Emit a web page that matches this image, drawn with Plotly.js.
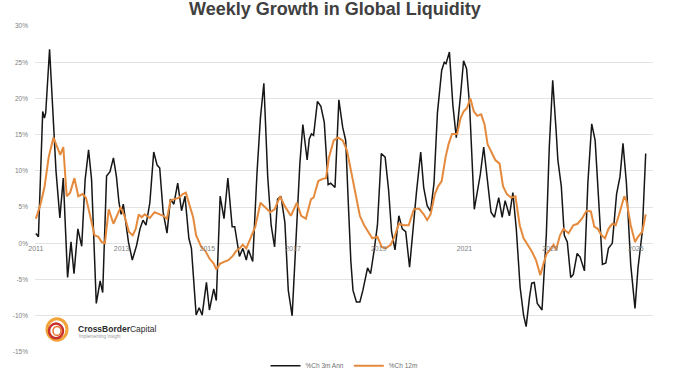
<!DOCTYPE html>
<html>
<head>
<meta charset="utf-8">
<script src="https://cdn.plot.ly/plotly-3.0.1.min.js"></script>
<style>
html,body{margin:0;padding:0;background:#fff;}
#chart{width:692px;height:392px;}
</style>
</head>
<body>
<div id="chart"></div>
<script>
// Time in decimal years, values in %
const blackX = [2011.00,2011.06,2011.16,2011.20,2011.23,2011.32,2011.39,2011.47,2011.56,2011.64,2011.74,2011.82,2011.89,2011.98,2012.07,2012.15,2012.23,2012.30,2012.41,2012.50,2012.56,2012.65,2012.73,2012.81,2012.88,2012.94,2012.99,2013.04,2013.16,2013.25,2013.35,2013.43,2013.50,2013.57,2013.66,2013.75,2013.83,2013.89,2013.97,2014.06,2014.14,2014.22,2014.31,2014.40,2014.48,2014.57,2014.63,2014.68,2014.74,2014.81,2014.88,2014.98,2015.05,2015.15,2015.21,2015.30,2015.39,2015.48,2015.58,2015.64,2015.75,2015.83,2015.91,2015.96,2016.06,2016.16,2016.24,2016.32,2016.41,2016.49,2016.57,2016.64,2016.72,2016.81,2016.89,2016.98,2017.07,2017.16,2017.23,2017.33,2017.38,2017.43,2017.48,2017.57,2017.65,2017.73,2017.82,2017.88,2017.98,2018.07,2018.16,2018.23,2018.29,2018.35,2018.40,2018.48,2018.56,2018.63,2018.74,2018.81,2018.89,2018.97,2019.06,2019.15,2019.23,2019.30,2019.38,2019.47,2019.55,2019.63,2019.72,2019.80,2019.88,2019.98,2020.05,2020.13,2020.21,2020.29,2020.37,2020.47,2020.53,2020.57,2020.65,2020.73,2020.81,2020.91,2020.98,2021.05,2021.12,2021.23,2021.30,2021.37,2021.45,2021.53,2021.62,2021.70,2021.80,2021.88,2021.95,2022.05,2022.13,2022.21,2022.30,2022.38,2022.44,2022.52,2022.57,2022.63,2022.70,2022.81,2022.91,2022.98,2023.06,2023.14,2023.18,2023.26,2023.33,2023.40,2023.48,2023.54,2023.63,2023.70,2023.80,2023.88,2023.97,2024.05,2024.14,2024.22,2024.30,2024.36,2024.45,2024.55,2024.63,2024.70,2024.78,2024.88,2024.98,2025.05,2025.15,2025.23];
const blackY = [1.35,0.9,18.2,17.3,18,26.8,19,10,3.5,9,-4.7,0.2,-4.2,2,-0.4,8.8,12.9,8.8,-8.3,-5.2,-6.8,9.3,9.9,11.8,9.2,5.6,4,5.4,0.2,-2.3,-0.3,2,3.2,2.5,5.6,12.6,10.8,10.4,4.3,1.4,6.1,5.4,8.3,4.5,6.5,0.7,-0.7,-5.6,-9.9,-8.9,-9.9,-5.4,-9.2,-6.3,-7.9,6.5,3.4,9,2.3,2.3,-1.8,-0.7,-2.3,-0.9,-2.5,9.7,17.3,22.1,9.2,2.5,-0.5,6.1,6.5,2.9,-6.5,-10,-0.2,11,16.4,11.5,14.4,15.1,14.9,19.6,18.9,16.7,8.1,8.3,7.7,19.8,16,14.2,5.6,-2.5,-6.5,-8.1,-8.1,-6.5,-3.4,-4.2,-1.1,2.5,12.4,11.9,7.4,1.6,-0.9,3.8,2,1.6,-3.3,2,7,12.6,7.7,5.2,4.4,8.3,18,23.9,25,24.8,26.4,19.1,14.6,20.5,25.2,24.1,19.1,4.7,7,9.5,13.3,9.2,4.3,3.6,6.3,3.6,5.9,3.8,7,2,-6.1,-9.9,-11.5,-7.4,-5.5,-5.4,-8.3,-9.2,1.1,13.3,22.5,15.5,11.5,7.9,1.1,0.2,-4.7,-4.3,-1.4,-1.9,-3.8,8.3,16.5,14.2,4.3,-2.9,-2.7,-0.7,0,6.8,9.2,13.8,8.3,-2.9,-9,-3.4,1.6,12.4];

const orangeX = [2011.00,2011.10,2011.20,2011.30,2011.41,2011.49,2011.57,2011.64,2011.72,2011.80,2011.90,2011.99,2012.09,2012.17,2012.26,2012.37,2012.46,2012.53,2012.61,2012.70,2012.81,2012.91,2012.98,2013.08,2013.17,2013.26,2013.33,2013.40,2013.47,2013.54,2013.66,2013.77,2013.89,2013.97,2014.06,2014.14,2014.24,2014.34,2014.43,2014.50,2014.59,2014.67,2014.74,2014.86,2014.96,2015.05,2015.15,2015.21,2015.30,2015.40,2015.50,2015.60,2015.67,2015.75,2015.83,2015.91,2016.01,2016.12,2016.24,2016.35,2016.47,2016.57,2016.70,2016.80,2016.95,2017.09,2017.19,2017.30,2017.42,2017.48,2017.59,2017.69,2017.77,2017.84,2017.95,2018.05,2018.16,2018.26,2018.33,2018.43,2018.56,2018.66,2018.76,2018.85,2018.97,2019.07,2019.16,2019.28,2019.38,2019.47,2019.59,2019.70,2019.82,2019.94,2020.05,2020.13,2020.21,2020.31,2020.39,2020.47,2020.56,2020.63,2020.71,2020.83,2020.91,2020.98,2021.06,2021.14,2021.22,2021.30,2021.39,2021.47,2021.54,2021.64,2021.72,2021.82,2021.90,2021.99,2022.09,2022.19,2022.29,2022.38,2022.47,2022.57,2022.67,2022.77,2022.84,2022.92,2023.00,2023.08,2023.14,2023.23,2023.31,2023.43,2023.54,2023.64,2023.74,2023.85,2023.95,2024.03,2024.11,2024.20,2024.28,2024.36,2024.45,2024.53,2024.60,2024.73,2024.78,2024.88,2024.98,2025.05,2025.15,2025.23];
const orangeY = [3.4,5.2,7.7,11.9,14.6,13.5,12.2,13.3,6.5,7,9,6.5,6.8,6.3,3.8,1.1,0.9,0.2,0,4.7,2.7,4,5,3.6,1.6,1.1,2,4,3.6,4,3.5,4.3,4,3.8,3.4,5.9,6.1,6.3,6.8,7,5.2,3.6,1.1,-0.5,-1.1,-2.1,-2.8,-3.6,-2.8,-2.6,-2.3,-1.7,-1.1,-0.7,-0.2,-0.7,0.7,2.3,5.6,5,4.3,4.7,6.5,5.2,3.8,5.6,3.8,3.4,6.1,6.3,8.6,8.9,9,11.9,14.2,14.6,14.2,12.8,10.6,7.4,3.8,2.5,1.6,0.7,0.9,-0.5,-0.7,-0.2,1.1,2.7,2.5,2.5,4.7,4.8,4,3.2,4,6.8,7.9,8.6,11.9,13.7,15.1,15.1,17.3,18.2,18.7,20,18.2,17.6,17.8,16.4,13.7,12.4,11.5,11,7.9,6.8,6.3,6.5,2.5,0.7,-0.1,-1.1,-2.3,-4.4,-2.9,-1.4,-0.9,-0.2,-0.9,1.1,2,1.4,2.5,2.7,3.4,4.5,4.4,2.3,2,1.1,0.7,2,2.7,2.5,3.8,6.5,5.9,2.5,0.2,0.9,1.6,4];

const seriesNames = ["%Ch 3m Ann", "%Ch 12m"];
const xTickVals = [2011, 2013, 2015, 2017, 2019, 2021, 2023, 2025];
const xTickText = ["2011", "2013", "2015", "2017", "2019", "2021", "2023", "2025"];
const yTickVals = [-15, -10, -5, 0, 5, 10, 15, 20, 25, 30];
const yTickText = ["-15%", "-10%", "-5%", "0%", "5%", "10%", "15%", "20%", "25%", "30%"];

const Y_MIN = -15, Y_MAX = 30;

const traces = [
  {x: blackX, y: blackY, name: seriesNames[0], type: 'scatter', mode: 'lines',
   line: {color: '#161616', width: 1.5}},
  {x: orangeX, y: orangeY, name: seriesNames[1], type: 'scatter', mode: 'lines',
   line: {color: '#e58a3c', width: 2}}
];

// logo geometry in pixels converted to paper
const L = 35, R = 39, T = 26, B = 33, W = 692, H = 392;
const pw = W - L - R, ph = H - T - B;
const px = v => (v - L) / pw;
const py = v => (H - B - v) / ph;

const layout = {
  width: W, height: H,
  margin: {l: L, r: R, t: T, b: B},
  paper_bgcolor: '#ffffff', plot_bgcolor: '#ffffff',
  font: {family: 'Liberation Sans, Arial, sans-serif', color: '#7f7f7f'},
  title: {text: '<b>Weekly Growth in Global Liquidity</b>', x: 0.484, xanchor: 'center',
          y: 0.978, yanchor: 'middle', yref: 'container',
          font: {family: 'Liberation Sans, Arial, sans-serif', size: 18, color: '#404040'}},
  xaxis: {range: [2010.98, 2025.4], tickvals: xTickVals, ticktext: xTickText,
          showgrid: false, zeroline: false, showline: false, ticks: '',
          anchor: 'free', position: (0 - Y_MIN) / (Y_MAX - Y_MIN),
          tickfont: {size: 7, color: '#808080'}, fixedrange: true},
  yaxis: {range: [Y_MIN, Y_MAX], tickvals: yTickVals, ticktext: yTickText,
          showgrid: true, gridcolor: '#e3e3e3', gridwidth: 1,
          zeroline: false, showline: false, ticks: '', ticklabelstandoff: 6,
          tickfont: {size: 6.5, color: '#808080'}, fixedrange: true},
  showlegend: true,
  legend: {orientation: 'h', x: 0.5, xanchor: 'center', y: -0.042, yanchor: 'middle',
           font: {size: 6.5, color: '#707070'}, bgcolor: 'rgba(0,0,0,0)', itemwidth: 30,
           tracegroupgap: 0},
  shapes: [
    {type: 'circle', xref: 'paper', yref: 'paper', x0: px(47), x1: px(67), y0: py(347), y1: py(325),
     line: {color: '#f2a33a', width: 3}},
    {type: 'circle', xref: 'paper', yref: 'paper', x0: px(49), x1: px(63), y0: py(345), y1: py(330),
     line: {color: '#c8302c', width: 2.5}},
    {type: 'circle', xref: 'paper', yref: 'paper', x0: px(53), x1: px(61), y0: py(342), y1: py(333),
     line: {color: '#e8702a', width: 1.5}}
  ],
  annotations: [
    {xref: 'paper', yref: 'paper', x: px(76), y: py(336), xanchor: 'left', yanchor: 'middle',
     showarrow: false, text: '<b>CrossBorder</b>Capital',
     font: {family: 'Liberation Sans, Arial, sans-serif', size: 8.5, color: '#2b2b2b'}},
    {xref: 'paper', yref: 'paper', x: px(77), y: py(343.5), xanchor: 'left', yanchor: 'middle',
     showarrow: false, text: 'Implementing Insight',
     font: {family: 'Liberation Sans, Arial, sans-serif', size: 4.5, color: '#999999'}}
  ]
};

Plotly.newPlot('chart', traces, layout, {displayModeBar: false, staticPlot: true});
</script>
</body>
</html>
